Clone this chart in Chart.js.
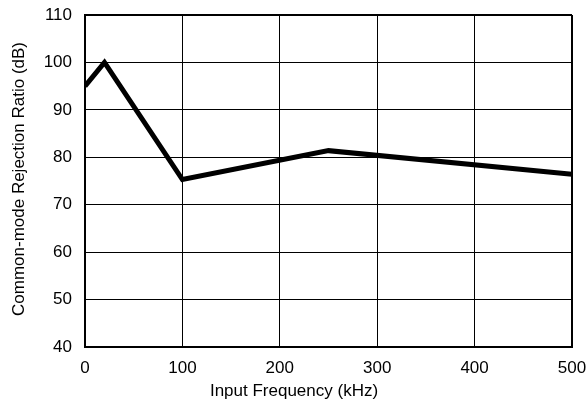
<!DOCTYPE html>
<html>
<head>
<meta charset="utf-8">
<script src="https://cdn.jsdelivr.net/npm/chart.js@4"></script>
<style>
  html, body { margin: 0; padding: 0; background: #fff; }
  #wrap { width: 588px; height: 408px; }
</style>
</head>
<body>
<div id="wrap"><canvas id="cmrrChart" width="588" height="408"></canvas></div>
<script>
// Values
const freqKHz = [0, 20, 100, 250, 500];
const cmrrDb = [95, 100, 75.3, 81.4, 76.4];
const xTicks = [0, 100, 200, 300, 400, 500];
const yTicks = [40, 50, 60, 70, 80, 90, 100, 110];
const xTitle = 'Input Frequency (kHz)';
const yTitle = 'Common-mode Rejection Ratio (dB)';

const points = freqKHz.map((f, i) => ({ x: f, y: cmrrDb[i] }));
const font = { family: "'Liberation Sans', Arial, sans-serif", size: 17 };

// axis titles: the x title sits centred on the whole figure, not the plot
const axisTitles = {
  id: 'axisTitles',
  afterDraw(chart) {
    const ctx = chart.ctx;
    ctx.save();
    ctx.font = `${font.size}px ${font.family}`;
    ctx.fillStyle = '#000';
    ctx.textAlign = 'center';
    ctx.textBaseline = 'middle';
    ctx.fillText(xTitle, chart.width / 2, 391);
    ctx.translate(19, 179);
    ctx.rotate(-Math.PI / 2);
    ctx.fillText(yTitle, 0, 0);
    ctx.restore();
  },
};

new Chart(document.getElementById('cmrrChart').getContext('2d'), {
  type: 'line',
  data: {
    datasets: [{
      data: points,
      borderColor: '#000',
      borderWidth: 5,
      pointRadius: 0,
      tension: 0,
      fill: false,
    }],
  },
  options: {
    responsive: false,
    animation: false,
    layout: { padding: { top: 15, right: 16, left: 0, bottom: 0 } },
    plugins: { legend: { display: false }, tooltip: { enabled: false } },
    scales: {
      x: {
        type: 'linear',
        min: 0,
        max: 500,
        afterBuildTicks: axis => { axis.ticks = xTicks.map(v => ({ value: v })); },
        ticks: { color: '#000', font, padding: 11, maxRotation: 0 },
        grid: {
          color: '#000',
          drawTicks: false,
          lineWidth: c => (c.tick && c.tick.value === 500 ? 2 : 1),
        },
        border: { color: '#000', width: 2 },
        afterFit: axis => { axis.height = 61; axis.paddingLeft = 0; axis.paddingRight = 0; },
      },
      y: {
        min: 40,
        max: 110,
        afterBuildTicks: axis => { axis.ticks = yTicks.map(v => ({ value: v })); },
        ticks: { color: '#000', font, padding: 13 },
        grid: {
          color: '#000',
          drawTicks: false,
          lineWidth: c => (c.tick && c.tick.value === 110 ? 2 : 1),
        },
        border: { color: '#000', width: 2 },
        afterFit: axis => { axis.width = 85; axis.paddingTop = 0; axis.paddingBottom = 0; },
      },
    },
  },
  plugins: [axisTitles],
});
</script>
</body>
</html>
